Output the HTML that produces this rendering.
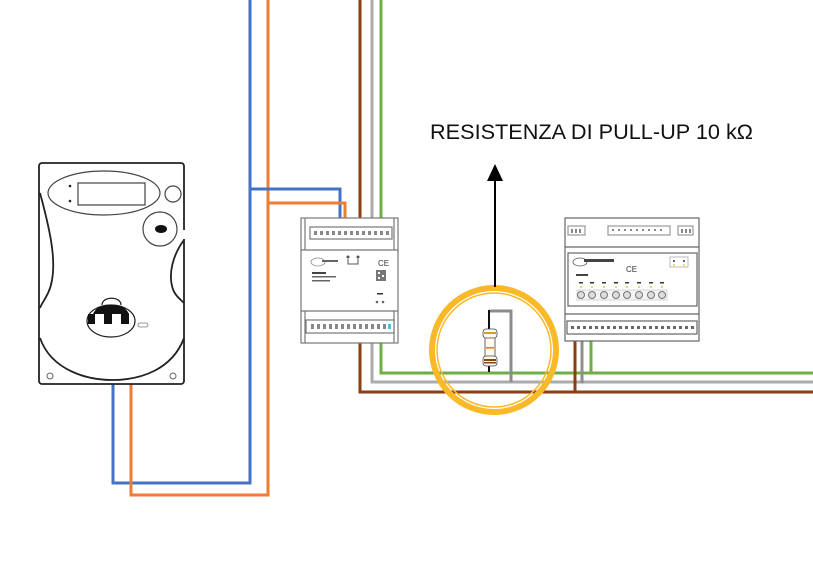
<!DOCTYPE html>
<html><head><meta charset="utf-8"><style>
html,body{margin:0;padding:0;background:#fff;}
svg{display:block;}
</style></head><body>
<svg width="813" height="586" viewBox="0 0 813 586" xmlns="http://www.w3.org/2000/svg">
<rect width="813" height="586" fill="#fff"/>
<!-- wires -->
<g fill="none" stroke-width="3" stroke-linejoin="miter" stroke-linecap="square">
  <polyline points="250,-2 250,483 113,483 113,384" stroke="#4472C4"/>
  <polyline points="268,-2 268,495 131,495 131,384" stroke="#ED7D31"/>
  <polyline points="250,189 340,189 340,218" stroke="#4472C4"/>
  <polyline points="268,203 345,203 345,218" stroke="#ED7D31"/>
  <polyline points="360,-2 360,392 815,392" stroke="#8B3E14"/>
  <polyline points="372,-2 372,382 815,382" stroke="#ABABAB"/>
  <polyline points="381,-2 381,373 815,373" stroke="#70AD47"/>
  <polyline points="575,341 575,392" stroke="#8B3E14"/>
  <polyline points="582,341 582,382" stroke="#8F8F8F"/>
  <polyline points="591,341 591,373" stroke="#70AD47"/>
</g>

<!-- meter -->
<g fill="none" stroke="#222" stroke-width="1.8">
  <rect x="39" y="163" width="145" height="221" rx="3" fill="#fff"/>
  <ellipse cx="104" cy="193" rx="56" ry="22" stroke-width="1.2" stroke="#444"/>
  <rect x="78" y="183" width="67" height="22" stroke-width="1.2" stroke="#444"/>
  <circle cx="173" cy="194" r="8" stroke-width="1.2" stroke="#444"/>
  <circle cx="160" cy="229" r="17" stroke-width="1.2" stroke="#444"/>
  <path d="M40,193 C50,230 56,258 52,280 C50,294 42,302 40,308"/>
  <path d="M184,240 C172,256 169,274 172,286 C174,295 180,299 184,303"/>
  <path d="M40,338 C52,372 90,380 112,380 C140,380 172,370 184,338"/>
  <circle cx="50" cy="376" r="3" stroke-width="1" stroke="#666"/>
  <circle cx="173" cy="376" r="3" stroke-width="1" stroke="#666"/>
  <ellipse cx="111" cy="321" rx="24" ry="16" stroke-width="1.2"/>
  <path d="M102,305 C102,296 121,296 121,305" stroke-width="1.2"/>
  <rect x="138" y="323" width="10" height="4" rx="2" stroke-width="0.8" stroke="#777"/>
</g>
<rect x="182" y="230" width="4" height="9" fill="#fff"/>
<ellipse cx="161" cy="229" rx="6" ry="4" fill="#111"/>
<circle cx="70" cy="186" r="1.3" fill="#222"/>
<circle cx="70" cy="201" r="1.3" fill="#222"/>
<path d="M93,314 C96,307 103,305 111,305 C119,305 126,307 129,314 Z" fill="#111"/>
<rect x="88" y="314" width="7" height="10" fill="#111"/>
<rect x="104" y="314" width="8" height="10" fill="#111"/>
<rect x="121" y="314" width="8" height="10" fill="#111"/>

<!-- left module -->
<g stroke="#777" stroke-width="1.2" fill="#fff">
  <rect x="301" y="218" width="97" height="125"/>
  <line x1="305" y1="218" x2="305" y2="250"/>
  <line x1="394" y1="218" x2="394" y2="250"/>
  <line x1="305" y1="311" x2="305" y2="343"/>
  <line x1="394" y1="311" x2="394" y2="343"/>
  <line x1="301" y1="250" x2="398" y2="250"/>
  <line x1="301" y1="311" x2="398" y2="311"/>
  <rect x="310" y="227" width="82" height="12"/>
  <rect x="306" y="320" width="88" height="13"/>
</g>
<g fill="#888">
  <rect x="314" y="231" width="3" height="4"/><rect x="320" y="231" width="3" height="4"/><rect x="326" y="231" width="3" height="4"/><rect x="332" y="231" width="3" height="4"/><rect x="338" y="231" width="3" height="4"/><rect x="344" y="231" width="3" height="4"/><rect x="350" y="231" width="3" height="4"/><rect x="356" y="231" width="3" height="4"/><rect x="362" y="231" width="3" height="4"/><rect x="368" y="231" width="3" height="4"/><rect x="374" y="231" width="3" height="4"/><rect x="380" y="231" width="3" height="4"/><rect x="386" y="231" width="3" height="4"/>
  <rect x="311" y="324" width="3" height="5"/><rect x="317" y="324" width="3" height="5"/><rect x="323" y="324" width="3" height="5"/><rect x="329" y="324" width="3" height="5"/><rect x="335" y="324" width="3" height="5"/><rect x="341" y="324" width="3" height="5"/><rect x="347" y="324" width="3" height="5"/><rect x="353" y="324" width="3" height="5"/><rect x="359" y="324" width="3" height="5"/><rect x="365" y="324" width="3" height="5"/><rect x="371" y="324" width="3" height="5"/><rect x="377" y="324" width="3" height="5"/><rect x="383" y="324" width="3" height="5"/>
</g>
<rect x="388" y="324" width="3" height="5" fill="#4BC0E0"/>
<ellipse cx="318" cy="262" rx="7" ry="4" fill="none" stroke="#888" stroke-width="0.8"/>
<rect x="322" y="260" width="16" height="2" fill="#666"/>
<rect x="312" y="272" width="14" height="2" fill="#444"/>
<rect x="312" y="276" width="24" height="1.5" fill="#666"/>
<rect x="312" y="280" width="18" height="1.5" fill="#666"/>
<path d="M348,259 v5 h10 v-5" fill="none" stroke="#555" stroke-width="1"/>
<circle cx="348" cy="257" r="1.5" fill="#555"/><circle cx="358" cy="257" r="1.5" fill="#555"/>
<text x="378" y="266" font-family="Liberation Sans, sans-serif" font-size="8" fill="#333">CE</text>
<rect x="376" y="270" width="10" height="11" fill="#777"/>
<rect x="378" y="272" width="2" height="2" fill="#fff"/><rect x="382" y="275" width="2" height="2" fill="#fff"/><rect x="378" y="277" width="2" height="2" fill="#fff"/>
<rect x="377" y="293" width="6" height="1.5" fill="#333"/>
<circle cx="377" cy="302" r="1.3" fill="#666"/><circle cx="383" cy="302" r="1.3" fill="#666"/>

<!-- right module -->
<g stroke="#666" stroke-width="1.2" fill="#fff">
  <rect x="565" y="218" width="134" height="123"/>
  <line x1="565" y1="247" x2="699" y2="247"/>
  <rect x="568" y="253" width="129" height="53"/>
  <line x1="565" y1="314" x2="699" y2="314"/>
  <rect x="567" y="321" width="130" height="13"/>
  <rect x="568" y="226" width="17" height="9" stroke="#999"/>
  <rect x="608" y="226" width="62" height="9" stroke="#999"/>
  <rect x="678" y="226" width="15" height="9" stroke="#999"/>
  <rect x="670" y="257" width="18" height="10" stroke="#aaa" stroke-width="0.8"/>
  <rect x="577" y="290" width="90" height="10" stroke="#ccc" stroke-width="0.8" fill="#f4f4f4"/>
</g>
<g fill="#888">
  <rect x="571" y="229" width="2" height="4"/><rect x="575" y="229" width="2" height="4"/><rect x="579" y="229" width="2" height="4"/>
  <rect x="681" y="229" width="2" height="4"/><rect x="685" y="229" width="2" height="4"/><rect x="689" y="229" width="2" height="4"/>
  <rect x="612" y="229" width="2" height="2"/><rect x="618" y="229" width="2" height="2"/><rect x="624" y="229" width="2" height="2"/><rect x="630" y="229" width="2" height="2"/><rect x="636" y="229" width="2" height="2"/><rect x="642" y="229" width="2" height="2"/><rect x="648" y="229" width="2" height="2"/><rect x="654" y="229" width="2" height="2"/><rect x="660" y="229" width="2" height="2"/>
</g>
<g fill="#666">
  <rect x="571" y="326" width="3" height="3"/><rect x="577" y="326" width="3" height="3"/><rect x="583" y="326" width="3" height="3"/><rect x="589" y="326" width="3" height="3"/><rect x="595" y="326" width="3" height="3"/><rect x="601" y="326" width="3" height="3"/><rect x="607" y="326" width="3" height="3"/><rect x="613" y="326" width="3" height="3"/><rect x="619" y="326" width="3" height="3"/><rect x="625" y="326" width="3" height="3"/><rect x="631" y="326" width="3" height="3"/><rect x="637" y="326" width="3" height="3"/><rect x="643" y="326" width="3" height="3"/><rect x="649" y="326" width="3" height="3"/><rect x="655" y="326" width="3" height="3"/><rect x="661" y="326" width="3" height="3"/><rect x="667" y="326" width="3" height="3"/><rect x="673" y="326" width="3" height="3"/><rect x="679" y="326" width="3" height="3"/><rect x="685" y="326" width="3" height="3"/><rect x="691" y="326" width="3" height="3"/>
</g>
<ellipse cx="580" cy="262" rx="7" ry="4" fill="none" stroke="#555" stroke-width="0.8"/>
<rect x="584" y="259" width="30" height="3" fill="#444"/>
<rect x="576" y="274" width="12" height="2" fill="#444"/>
<text x="626" y="272" font-family="Liberation Sans, sans-serif" font-size="8" fill="#333">CE</text>
<circle cx="674" cy="261" r="1" fill="#333"/><circle cx="684" cy="261" r="1" fill="#333"/>
<circle cx="674" cy="265" r="1" fill="#DDD44A"/><circle cx="684" cy="265" r="1" fill="#DDD44A"/>
<g>
  <g fill="#333"><rect x="579" y="282" width="4" height="1.5"/><rect x="590" y="282" width="4" height="1.5"/><rect x="602" y="282" width="4" height="1.5"/><rect x="614" y="282" width="4" height="1.5"/><rect x="625" y="282" width="4" height="1.5"/><rect x="637" y="282" width="4" height="1.5"/><rect x="649" y="282" width="4" height="1.5"/><rect x="660" y="282" width="4" height="1.5"/></g>
  <g fill="#BFD83A"><circle cx="581" cy="287" r="1"/><circle cx="592" cy="287" r="1"/><circle cx="604" cy="287" r="1"/><circle cx="616" cy="287" r="1"/><circle cx="627" cy="287" r="1"/><circle cx="639" cy="287" r="1"/><circle cx="651" cy="287" r="1"/><circle cx="662" cy="287" r="1"/></g>
  <g fill="#ddd" stroke="#777" stroke-width="1"><circle cx="581" cy="295" r="3.5"/><circle cx="592" cy="295" r="3.5"/><circle cx="604" cy="295" r="3.5"/><circle cx="616" cy="295" r="3.5"/><circle cx="627" cy="295" r="3.5"/><circle cx="639" cy="295" r="3.5"/><circle cx="651" cy="295" r="3.5"/><circle cx="662" cy="295" r="3.5"/></g>
</g>

<!-- circle highlight -->
<circle cx="494" cy="350" r="62" fill="none" stroke="#F9B928" stroke-width="6"/>
<circle cx="494" cy="350" r="57" fill="none" stroke="#F9B928" stroke-width="1.5"/>

<!-- resistor -->
<polyline points="489,311 511,311 511,382" fill="none" stroke="#8C8C8C" stroke-width="3"/>
<line x1="489" y1="310" x2="489" y2="372" stroke="#111" stroke-width="2"/>
<g stroke="#444" stroke-width="0.8" fill="#FFFAF0">
  <rect x="485" y="336" width="10" height="22"/>
  <rect x="483" y="329" width="14" height="9" rx="3"/>
  <rect x="483" y="356" width="14" height="10" rx="3"/>
</g>
<rect x="484" y="332" width="12" height="2" fill="#CFA22A"/>
<rect x="486" y="347" width="8" height="1.6" fill="#F07A28"/>
<rect x="484" y="359" width="12" height="2" fill="#8B4513"/>
<rect x="484" y="362" width="12" height="1.5" fill="#8B4513"/>

<!-- arrow -->
<line x1="495" y1="287" x2="495" y2="178" stroke="#000" stroke-width="2"/>
<polygon points="487,181 503,181 495,164" fill="#000"/>

<text x="430" y="139" font-family="Liberation Sans, sans-serif" font-size="21.5" fill="#111" textLength="323" lengthAdjust="spacingAndGlyphs">RESISTENZA DI PULL-UP 10 kΩ</text>
</svg>
</body></html>
